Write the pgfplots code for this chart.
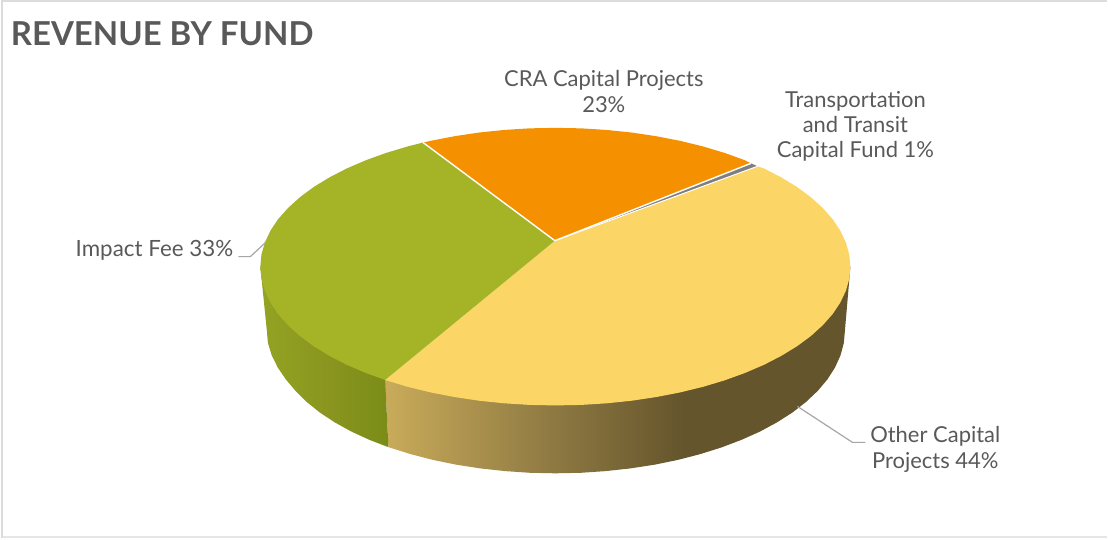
\documentclass[border=0pt]{standalone}
\usepackage{pgfplots}
\pgfplotsset{compat=1.18}
\usepackage{fontspec}
\setmainfont{Lato}
\definecolor{txt}{HTML}{595959}
\definecolor{lead}{HTML}{A6A6A6}
\definecolor{frame}{HTML}{DCDCDC}
\definecolor{framelight}{HTML}{E6E6E6}
\definecolor{cgreen}{HTML}{A4B426}
\definecolor{corange}{HTML}{F59100}
\definecolor{cyellow}{HTML}{FBD666}
\definecolor{cgray}{HTML}{7F7F7F}
\definecolor{ga}{HTML}{C9AB5A}
\definecolor{gb}{HTML}{8E7942}
\definecolor{gc}{HTML}{65552C}
\definecolor{ea}{HTML}{93A322}
\definecolor{eb}{HTML}{8A9620}
\definecolor{ec}{HTML}{7A8C17}
\pgfdeclarehorizontalshading{goldwall}{100bp}{color(0bp)=(ga); color(25bp)=(ga); color(43bp)=(gb); color(57bp)=(gc); color(75bp)=(gc); color(100bp)=(gc)}
\pgfdeclarehorizontalshading{greenwall}{100bp}{color(0bp)=(ea); color(25bp)=(ea); color(50bp)=(eb); color(75bp)=(ec); color(100bp)=(ec)}
\begin{document}
\begin{tikzpicture}
\begin{axis}[
  width=1108pt, height=539pt, scale only axis,
  xmin=0, xmax=1108, ymin=0, ymax=539, y dir=reverse,
  axis lines=none, clip=false, no markers,
]
% frame
\addplot[draw=white, line width=0.1pt] coordinates {(1108,0) (1108,539)};
\addplot[draw=framelight, line width=1.5pt] coordinates {(0,538) (1108,538)};
\addplot[draw=frame, line width=2pt] coordinates {(1,539) (1,1) (1108,1)};
% walls
\addplot[draw=none, shade, shading=goldwall] coordinates {
(851,267) (845.5,331) (844.4,343.5) (841.1,355.8) (835.6,368.0) (828.0,379.9) (818.3,391.4) (806.6,402.5) (793.1,413.0) (777.6,422.9) (760.6,432.1) (741.9,440.5) (721.8,448.1) (700.5,454.8) (678.1,460.6) (654.7,465.4) (630.6,469.1) (605.8,471.8) (580.8,473.5) (555.5,474) (530.2,473.5) (505.2,471.8) (480.4,469.1) (456.3,465.4) (432.9,460.6) (410.5,454.8) (389.2,448.1) (388.3,447.8) (385,380.5) (851,267)};
\addplot[draw=none, shade, shading=greenwall] coordinates {
(260,267) (266.5,331) (267.6,343.5) (271.4,355.8) (277.4,368.0) (285.5,379.9) (295.2,391.4) (306.4,402.5) (319.4,413.0) (334.4,422.9) (351.0,432.1) (369.3,440.5) (388.3,447.8) (385,380.5) (260,267)};
% top faces
\addplot[draw=none, fill=cyellow] coordinates {
(555,241) (758,166.5) (764.5,168.7) (781.9,177.7) (797.6,187.3) (811.4,197.5) (823.3,208.3) (833.2,219.5) (840.9,231.0) (846.5,242.9) (849.9,254.9) (851,267) (849.9,279.1) (846.5,291.1) (840.9,303.0) (833.2,314.5) (823.3,325.7) (811.4,336.5) (797.6,346.7) (781.9,356.3) (764.5,365.3) (745.4,373.5) (725.0,380.9) (703.3,387.4) (680.4,393.0) (656.6,397.6) (632.0,401.3) (606.8,403.9) (581.3,405.5) (555.5,406) (529.7,405.5) (504.2,403.9) (479.0,401.3) (454.4,397.6) (430.6,393.0) (407.7,387.4) (386,380.9) (385,380.5) (555,241)};
\addplot[draw=none, fill=cgreen] coordinates {
(555,241) (385,380.5) (365.6,373.5) (346.5,365.3) (329.1,356.3) (313.4,346.7) (299.6,336.5) (287.7,325.7) (277.8,314.5) (270.1,303.0) (264.5,291.1) (261.1,279.1) (260,267) (261.1,254.9) (264.5,242.9) (270.1,231.0) (277.8,219.5) (287.7,208.3) (299.6,197.5) (313.4,187.3) (329.1,177.7) (346.5,168.7) (365.6,160.5) (386.0,153.1) (407.7,146.6) (423,142.7) (555,241)};
\addplot[draw=none, fill=corange] coordinates {
(555,241) (423,142.7) (430.6,141.0) (454.4,136.4) (479.0,132.7) (504.2,130.1) (529.7,128.5) (555.5,128) (581.3,128.5) (606.8,130.1) (632.0,132.7) (656.6,136.4) (680.4,141.0) (703.3,146.6) (725.0,153.1) (745.4,160.5) (751.5,163.5) (555,241)};
\addplot[draw=none, fill=cgray] coordinates {(555,241) (751.5,163.5) (758,166.5) (555,241)};
% white slice borders
\addplot[draw=white, line width=1.4pt] coordinates {(423,142.7) (555,241) (751.5,163.5)};
\addplot[draw=white, line width=1pt] coordinates {(555,241) (758,166.5)};
% leaders
\addplot[draw=lead, line width=1.2pt] coordinates {(238,257) (250,257) (265,243)};
\addplot[draw=lead, line width=1.2pt] coordinates {(798,407) (853,443) (866,443)};
% text
\node[anchor=west, text=txt, font=\fontsize{33}{36}\selectfont\bfseries, inner sep=0pt] at (axis cs:10,33.5) {REVENUE BY FUND};
\node[align=center, text=txt, font=\fontsize{22}{26.5}\selectfont] at (axis cs:604,91.5) {CRA Capital Projects\\23\%};
\node[align=center, text=txt, font=\fontsize{22}{25.5}\selectfont] at (axis cs:856,126.5) {Transportation\\and Transit\\Capital Fund 1\%};
\node[anchor=east, text=txt, font=\fontsize{22.4}{26}\selectfont, inner sep=0pt] at (axis cs:233,250.5) {Impact Fee 33\%};
\node[align=center, text=txt, font=\fontsize{22}{26}\selectfont] at (axis cs:936,450) {Other Capital\\Projects 44\%};
\end{axis}
\end{tikzpicture}
\end{document}
